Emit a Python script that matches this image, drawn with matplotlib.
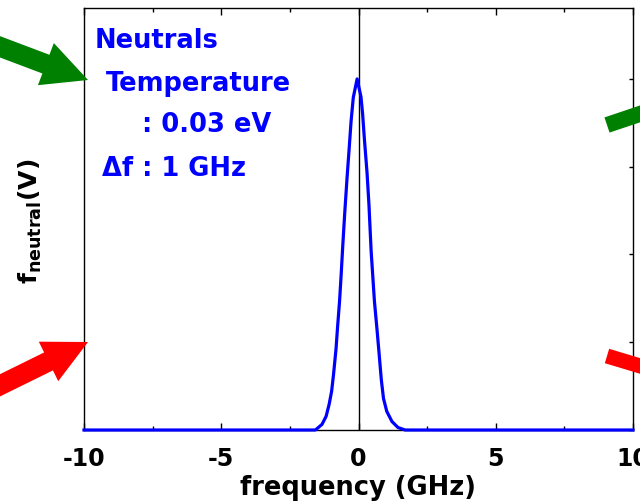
import matplotlib
matplotlib.use("Agg")
import matplotlib.pyplot as plt
from matplotlib.patches import FancyArrow
from matplotlib.transforms import IdentityTransform

# Neutral distribution (GHz, normalised amplitude)
freq = [-10, -1.57, -1.33, -1.18, -1.07, -0.98, -0.91, -0.82, -0.76, -0.69,
        -0.63, -0.57, -0.50, -0.42, -0.34, -0.27, -0.19, -0.05, 0.09, 0.15,
        0.22, 0.31, 0.38, 0.46, 0.58, 0.67, 0.75, 0.83, 0.91, 1.03, 1.22,
        1.44, 1.70, 10]
amp = [0, 0, 0.016, 0.039, 0.073, 0.110, 0.158, 0.230, 0.296, 0.367,
       0.445, 0.529, 0.620, 0.715, 0.802, 0.880, 0.947, 1.0, 0.949, 0.900,
       0.823, 0.734, 0.643, 0.510, 0.367, 0.290, 0.218, 0.144, 0.090, 0.053,
       0.024, 0.007, 0, 0]

x_major = [-10, -5, 0, 5, 10]
x_minor = [-7.5, -2.5, 2.5, 7.5]
y_ticks = [0, 0.25, 0.5, 0.75, 1.0]
info_lines = ["Neutrals", "Temperature", ": 0.03 eV", "\u0394f : 1 GHz"]

plt.rcParams["font.family"] = ["DejaVu Sans"]
plt.rcParams["font.weight"] = "bold"
plt.rcParams["axes.unicode_minus"] = False

W, H = 640, 504
fig = plt.figure(figsize=(W / 100, H / 100), dpi=100)
ax = fig.add_axes([84 / W, 1 - 430 / H, (633 - 84) / W, (430 - 8) / H])

ax.axvline(0, color="black", lw=1.0, zorder=2)
ax.plot(freq, amp, color="#0000ff", lw=2.3, zorder=3, clip_on=False)

ax.set_xlim(-10, 10)
ax.set_ylim(0, 1.202)
ax.set_xticks(x_major)
ax.set_xticks(x_minor, minor=True)
ax.set_xticklabels([str(v) for v in x_major])
ax.set_yticks(y_ticks)
ax.tick_params(axis="x", which="major", direction="in", length=5, width=1,
               top=True, labelsize=17, pad=12)
ax.tick_params(axis="x", which="minor", direction="in", length=3, width=1,
               top=True)
ax.tick_params(axis="y", direction="in", length=3, width=1, left=False,
               right=True, labelleft=False)
for sp in ax.spines.values():
    sp.set_linewidth(1.0)

ax.set_xlabel("frequency (GHz)", fontsize=18.5, fontweight="bold", labelpad=3)
fig.text(30 / W, 1 - 221 / H, "f$_{\\mathregular{neutral}}$(V)", rotation=90,
         ha="center", va="center", fontsize=18, fontweight="bold")

# blue annotation block
text_pos = [(95, 48), (106, 91), (142, 132), (102, 176)]
for (px, py), s in zip(text_pos, info_lines):
    fig.text(px / W, 1 - py / H, s, color="#0000ff", fontsize=18.5,
             fontweight="bold", ha="left", va="baseline")


def arrow(x0, y0, x1, y1, color, width, head_w, head_l):
    # coordinates in image pixels (origin top-left)
    a = FancyArrow(x0, H - y0, x1 - x0, -(y1 - y0), width=width,
                   head_width=head_w, head_length=head_l,
                   length_includes_head=True, color=color, lw=0)
    a.set_transform(IdentityTransform())
    a.set_clip_on(False)
    fig.patches.append(a)


arrow(-34, 34, 88, 80, "#008000", 20, 45, 45)
arrow(-40, 405, 88, 342, "#ff0000", 20, 44, 44)
arrow(607, 125, 720, 87, "#008000", 16, 16, 0.1)
arrow(607, 356, 720, 390, "#ff0000", 15, 15, 0.1)

fig.savefig("out.png", dpi=100)
